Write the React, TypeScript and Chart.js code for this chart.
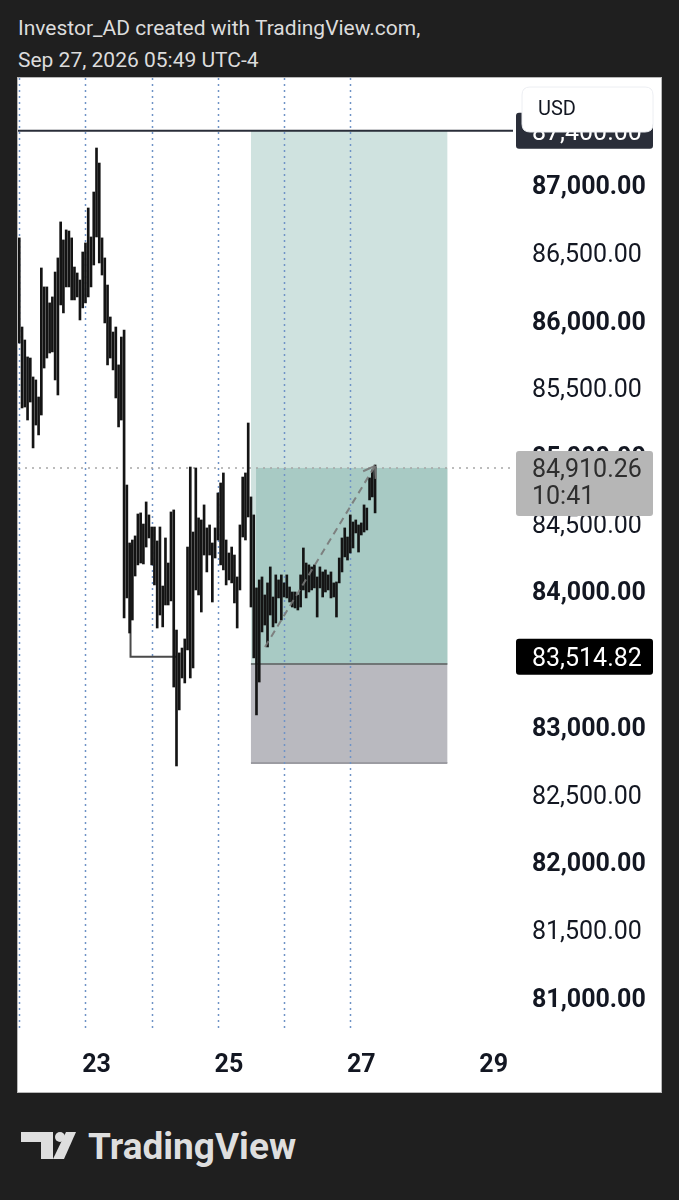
import React, { useEffect, useRef } from 'react';
import { Chart, registerables } from 'chart.js';

Chart.register(...registerables);

// ---- data (hourly bars, Sep 21 20:00 .. Sep 27 05:00, UTC-4) ----
const firstBarDay = 21 + 20 / 24;
const barHighs = [
  86609, 85951, 85855, 85730, 85722, 85582, 85560, 85434, 86387, 86247,
  86247, 86129, 86173, 86357, 86461, 86727, 86594, 86668, 86660, 86609,
  86394, 86350, 86298, 86505, 86572, 86830, 86616, 86948, 87273, 87162,
  86609, 86461, 86261, 86025, 85914, 85951, 85671, 85877, 85929, 84784,
  84356, 84378, 84408, 84570, 84578, 84496, 84659, 84563, 84474, 84474,
  84371, 84474, 84038, 84393, 84208, 84585, 84600, 83713, 83544, 83580,
  83647, 84326, 84917, 84437, 84910, 84541, 84526, 84637, 84467, 84489,
  84356, 84467, 84725, 84799, 84873, 84378, 84282, 84326, 84267, 84105,
  84489, 84843, 84873, 85242, 84696, 84563, 84024, 84083, 84105, 83972,
  84061, 84179, 83957, 84120, 84083, 84120, 84061, 84120, 84031, 83994,
  83994, 83972, 84120, 84319, 84208, 84194, 84179, 84194, 84105, 84179,
  84142, 84157, 84120, 84142, 84061, 84068, 84245, 84393, 84467, 84400,
  84563, 84511, 84526, 84489, 84504, 84637, 84614, 84836, 84895, 84932,
];
const barLows = [
  85833, 85353, 85360, 85264, 85397, 85058, 85227, 85154, 85301, 85648,
  85722, 85759, 85767, 85560, 85449, 86114, 86055, 86247, 86247, 86151,
  86151, 86173, 86003, 86092, 86129, 86173, 86247, 86409, 86616, 86424,
  86335, 85981, 85671, 85722, 85634, 85427, 85213, 85264, 83802, 83950,
  83691, 83787, 84112, 84194, 84208, 84201, 84326, 84393, 84194, 84046,
  83728, 83824, 83736, 83898, 83898, 83928, 83292, 82709, 83123, 83359,
  83322, 83566, 83359, 83433, 84009, 83972, 83846, 84267, 84142, 84267,
  83920, 84245, 84378, 84194, 84157, 84046, 84083, 84061, 83913, 83728,
  84009, 84400, 84378, 84548, 83883, 83507, 83086, 83329, 83699, 83750,
  83588, 83824, 83736, 83765, 83950, 83787, 83957, 83950, 83920, 83883,
  83876, 83861, 83883, 84009, 83950, 83994, 84009, 84024, 83809, 84024,
  83957, 83994, 84009, 83950, 83957, 83809, 84061, 84142, 84253, 84230,
  84282, 84319, 84430, 84289, 84415, 84437, 84452, 84674, 84696, 84578,
];

const dayTicks = [23, 25, 27, 29];
const priceTicks = [81000, 81500, 82000, 82500, 83000, 83500, 84000, 84500, 85000, 85500, 86000, 86500, 87000, 87500];
const sessionBreaks = [21.8333, 22.8333, 23.8333, 24.8333, 25.8333, 26.8333];
const xRange = [21.814, 29.322];
const yRange = [80759, 87790];

const lastPrice = 84910.26;
const countdown = '10:41';
const hLinePrice = 87400;
const markedPrice = 83514.82;
const pathTimes = [23.514, 23.514, 24.216];
const pathPrices = [84341, 83514.82, 83514.82];
const arrowTimes = [25.545, 27.207];
const arrowPrices = [83588, 84925];
const posTimes = [25.333, 25.41, 28.3]; // start, profit-fill start, end
const posPrices = [87400, 83462, 82731]; // target, entry, stop

const FONT = 'Roboto';
const fmt = (v: number) =>
  v.toLocaleString('en-US', { minimumFractionDigits: 2, maximumFractionDigits: 2 });

function roundRect(ctx: CanvasRenderingContext2D, x: number, y: number, w: number, h: number, r: number) {
  ctx.beginPath();
  ctx.moveTo(x + r, y);
  ctx.lineTo(x + w - r, y);
  ctx.quadraticCurveTo(x + w, y, x + w, y + r);
  ctx.lineTo(x + w, y + h - r);
  ctx.quadraticCurveTo(x + w, y + h, x + w - r, y + h);
  ctx.lineTo(x + r, y + h);
  ctx.quadraticCurveTo(x, y + h, x, y + h - r);
  ctx.lineTo(x, y + r);
  ctx.quadraticCurveTo(x, y, x + r, y);
  ctx.closePath();
}

const overlay = {
  id: 'overlay',
  beforeDatasetsDraw(chart: any) {
    const { ctx, chartArea: a, scales } = chart;
    const X = (v: number) => scales.x.getPixelForValue(v);
    const Y = (v: number) => scales.y.getPixelForValue(v);
    ctx.save();
    ctx.beginPath();
    ctx.rect(a.left, a.top, a.right - a.left, a.bottom - a.top);
    ctx.clip();
    const [pS, pD, pE] = posTimes;
    const [tgt, ent, stp] = posPrices;
    ctx.fillStyle = '#cfe2df';
    ctx.fillRect(X(pS), Y(tgt), X(pE) - X(pS), Y(ent) - Y(tgt));
    ctx.fillStyle = '#b9b9bf';
    ctx.fillRect(X(pS), Y(ent), X(pE) - X(pS), Y(stp) - Y(ent));
    ctx.fillStyle = '#a8cac4';
    ctx.fillRect(X(pD), Y(lastPrice), X(pE) - X(pD), Y(ent) - Y(lastPrice));
    ctx.lineWidth = 2;
    ctx.strokeStyle = '#6f7676';
    ctx.beginPath();
    ctx.moveTo(X(pS), Y(ent));
    ctx.lineTo(X(pE), Y(ent));
    ctx.stroke();
    ctx.strokeStyle = '#9c9ca2';
    ctx.beginPath();
    ctx.moveTo(X(pS), Y(stp));
    ctx.lineTo(X(pE), Y(stp));
    ctx.stroke();
    // session breaks
    ctx.setLineDash([2, 4]);
    ctx.lineWidth = 1.5;
    ctx.strokeStyle = '#6f93c6';
    sessionBreaks.forEach((d) => {
      const px = Math.round(X(d)) + 0.5;
      ctx.beginPath();
      ctx.moveTo(px, a.top);
      ctx.lineTo(px, a.bottom);
      ctx.stroke();
    });
    // last price dotted line
    ctx.setLineDash([2, 5]);
    ctx.strokeStyle = '#a6a6a6';
    ctx.beginPath();
    ctx.moveTo(a.left, Y(lastPrice));
    ctx.lineTo(a.right, Y(lastPrice));
    ctx.stroke();
    ctx.setLineDash([]);
    // horizontal line
    ctx.strokeStyle = '#2a2e39';
    ctx.lineWidth = 2;
    ctx.beginPath();
    ctx.moveTo(a.left, Y(hLinePrice));
    ctx.lineTo(a.right - 2, Y(hLinePrice));
    ctx.stroke();
    // path drawing
    ctx.strokeStyle = '#4a4a4a';
    ctx.lineWidth = 2;
    ctx.beginPath();
    pathTimes.forEach((t, i) => {
      if (i === 0) ctx.moveTo(X(t), Y(pathPrices[i]));
      else ctx.lineTo(X(t), Y(pathPrices[i]));
    });
    ctx.stroke();
    ctx.restore();
  },
  afterDatasetsDraw(chart: any) {
    const { ctx, scales } = chart;
    const X = (v: number) => scales.x.getPixelForValue(v);
    const Y = (v: number) => scales.y.getPixelForValue(v);
    const x0 = X(arrowTimes[0]), y0 = Y(arrowPrices[0]);
    const x1 = X(arrowTimes[1]), y1 = Y(arrowPrices[1]);
    ctx.save();
    ctx.strokeStyle = 'rgba(120,120,120,0.9)';
    ctx.lineWidth = 2;
    ctx.setLineDash([7, 5]);
    ctx.beginPath();
    ctx.moveTo(x0, y0);
    ctx.lineTo(x1, y1);
    ctx.stroke();
    const ang = Math.atan2(y1 - y0, x1 - x0);
    ctx.setLineDash([]);
    ctx.beginPath();
    [-0.6, 0.6].forEach((d) => {
      ctx.moveTo(x1, y1);
      ctx.lineTo(x1 - 13 * Math.cos(ang + d), y1 - 13 * Math.sin(ang + d));
    });
    ctx.stroke();
    ctx.restore();
  },
  afterDraw(chart: any) {
    const { ctx, chartArea: a, scales } = chart;
    const ys = scales.y;
    const Y = (v: number) => ys.getPixelForValue(v);
    const bx = ys.left + 1;
    const bw = 137;
    const tx = ys.left + 17;
    ctx.save();
    ctx.textBaseline = 'middle';
    ctx.textAlign = 'left';
    ctx.font = `25px ${FONT}`;
    ctx.fillStyle = '#2a2e39';
    roundRect(ctx, bx, Y(hLinePrice) - 18, bw, 36, 3);
    ctx.fill();
    ctx.fillStyle = '#ffffff';
    ctx.fillText(fmt(hLinePrice), tx, Y(hLinePrice) + 3);
    // USD box
    ctx.fillStyle = '#ffffff';
    roundRect(ctx, ys.left + 7, a.top + 9, 131, 45, 8);
    ctx.fill();
    ctx.strokeStyle = '#eceef2';
    ctx.lineWidth = 1;
    ctx.stroke();
    ctx.fillStyle = '#131722';
    ctx.font = `20px ${FONT}`;
    ctx.fillText('USD', ys.left + 23, a.top + 32);
    // last price box
    ctx.font = `25px ${FONT}`;
    ctx.fillStyle = '#b6b6b6';
    roundRect(ctx, bx, Y(lastPrice) - 17, bw, 65, 3);
    ctx.fill();
    ctx.fillStyle = '#2e2e2e';
    ctx.fillText(fmt(lastPrice), tx, Y(lastPrice) + 3);
    ctx.fillText(countdown, tx, Y(lastPrice) + 30);
    // marked price box
    ctx.fillStyle = '#000000';
    roundRect(ctx, bx, Y(markedPrice) - 18, bw, 36, 3);
    ctx.fill();
    ctx.fillStyle = '#ffffff';
    ctx.fillText(fmt(markedPrice), tx, Y(markedPrice) + 3);
    ctx.restore();
  },
};

const noPad = (s: any) => {
  s.paddingTop = 0;
  s.paddingBottom = 0;
  s.paddingLeft = 0;
  s.paddingRight = 0;
};

function PriceChart() {
  const ref = useRef<HTMLCanvasElement>(null);
  useEffect(() => {
    if (!ref.current) return;
    const bars = barHighs.map((h, i) => ({ x: firstBarDay + i / 24, y: [barLows[i], h] }));
    const chart = new Chart(ref.current, {
      type: 'bar',
      data: {
        datasets: [
          {
            data: bars as any,
            backgroundColor: '#141414',
            borderWidth: 0,
            barThickness: 2,
            grouped: false,
          } as any,
        ],
      },
      options: {
        animation: false,
        responsive: false,
        devicePixelRatio: 1,
        layout: { padding: 0, autoPadding: false },
        plugins: { legend: { display: false }, tooltip: { enabled: false } },
        scales: {
          x: {
            type: 'linear',
            min: xRange[0],
            max: xRange[1],
            offset: false,
            grid: { display: false, drawTicks: false },
            border: { display: false },
            afterBuildTicks: (s: any) => {
              s.ticks = dayTicks.map((v) => ({ value: v }));
            },
            afterFit: (s: any) => {
              s.height = 62;
              noPad(s);
            },
            ticks: {
              autoSkip: false,
              maxRotation: 0,
              padding: 21,
              color: '#131722',
              font: { family: FONT, size: 25, weight: 'bold' },
              callback: (v: any) => String(v),
            },
          },
          y: {
            type: 'linear',
            position: 'right',
            min: yRange[0],
            max: yRange[1],
            grid: { display: false, drawTicks: false },
            border: { display: false },
            afterBuildTicks: (s: any) => {
              s.ticks = priceTicks.map((v) => ({ value: v }));
            },
            afterFit: (s: any) => {
              s.width = 146;
              noPad(s);
            },
            ticks: {
              autoSkip: false,
              padding: 17,
              labelOffset: 3,
              color: '#131722',
              font: (c: any) => ({
                family: FONT,
                size: 25,
                weight: c.tick && c.tick.value % 1000 === 0 ? 'bold' : 'normal',
              }),
              callback: (v: any) => fmt(Number(v)),
            },
          },
        },
      } as any,
      plugins: [overlay],
    });
    return () => chart.destroy();
  }, []);
  return <canvas ref={ref} width={643} height={1014} style={{ display: 'block' }} />;
}

export default function App() {
  return (
    <div
      style={{
        position: 'absolute',
        left: 0,
        top: 0,
        width: 679,
        height: 1200,
        background: '#1f1f1f',
        fontFamily: FONT,
        overflow: 'hidden',
      }}
    >
      <div
        style={{
          position: 'absolute',
          left: 18,
          top: 12,
          color: '#dcdcdc',
          fontSize: 21,
          lineHeight: '32px',
          whiteSpace: 'nowrap',
        }}
      >
        <div>Investor_AD created with TradingView.com,</div>
        <div>Sep 27, 2026 05:49 UTC-4</div>
      </div>
      <div
        style={{
          position: 'absolute',
          left: 18,
          top: 78,
          width: 643,
          height: 1014,
          background: '#ffffff',
          outline: '1px solid #b8b8b8',
        }}
      >
        <PriceChart />
      </div>
      <svg style={{ position: 'absolute', left: 0, top: 1120 }} width={679} height={60}>
        <g fill="#dedede">
          <rect x={21} y={12} width={32} height={10} />
          <rect x={41} y={12} width={12} height={27} />
          <circle cx={60} cy={17} r={5} />
          <polygon points="66,12 76,12 64,39 53,39" />
          <text x={88} y={39} fontFamily={FONT} fontWeight="bold" fontSize={37}>
            TradingView
          </text>
        </g>
      </svg>
    </div>
  );
}
